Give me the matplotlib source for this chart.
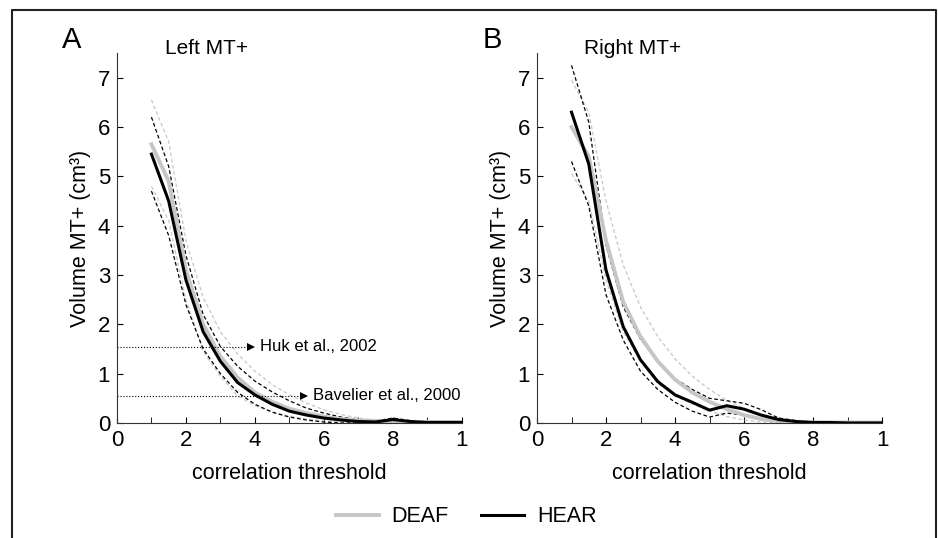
import matplotlib.pyplot as plt
from matplotlib.lines import Line2D
import numpy as np

plt.rcParams['font.family'] = ['Liberation Sans', 'DejaVu Sans']

# correlation thresholds
thr = [0.1, 0.15, 0.2, 0.25, 0.3, 0.35, 0.4, 0.45, 0.5, 0.55,
       0.6, 0.65, 0.7, 0.75, 0.8, 0.85, 0.9, 0.95, 1.0]

# Left MT+
left_hear = [5.45, 4.5, 2.9, 1.85, 1.25, 0.82, 0.57, 0.38, 0.24, 0.16,
             0.1, 0.06, 0.03, 0.02, 0.07, 0.03, 0.01, 0.01, 0.01]
left_hear_hi = [6.2, 5.2, 3.4, 2.2, 1.55, 1.15, 0.85, 0.63, 0.45, 0.3,
                0.2, 0.12, 0.07, 0.04, 0.1, 0.05, 0.02, 0.02, 0.02]
left_hear_lo = [4.7, 3.8, 2.4, 1.5, 1.0, 0.62, 0.38, 0.22, 0.12, 0.06,
                0.02, 0.0, 0.0, 0.0, 0.03, 0.0, 0.0, 0.0, 0.0]
left_deaf = [5.65, 4.9, 3.1, 2.0, 1.35, 0.92, 0.62, 0.43, 0.29, 0.2,
             0.13, 0.08, 0.05, 0.04, 0.03, 0.02, 0.02, 0.02, 0.02]
left_deaf_hi = [6.55, 5.7, 3.7, 2.55, 1.85, 1.4, 1.05, 0.78, 0.57, 0.4,
                0.27, 0.17, 0.1, 0.06, 0.04, 0.03, 0.03, 0.03, 0.03]
left_deaf_lo = [4.8, 4.1, 2.5, 1.45, 0.95, 0.55, 0.35, 0.22, 0.14, 0.08,
                0.04, 0.02, 0.01, 0.01, 0.01, 0.01, 0.01, 0.01, 0.01]

# Right MT+
right_hear = [6.3, 5.25, 3.1, 1.95, 1.28, 0.84, 0.57, 0.42, 0.26, 0.35,
              0.28, 0.16, 0.07, 0.03, 0.01, 0.01, 0.0, 0.0, 0.0]
right_hear_hi = [7.25, 6.1, 3.6, 2.35, 1.7, 1.25, 0.9, 0.68, 0.5, 0.45,
                 0.4, 0.27, 0.1, 0.05, 0.02, 0.01, 0.01, 0.01, 0.01]
right_hear_lo = [5.3, 4.4, 2.6, 1.68, 1.05, 0.68, 0.42, 0.24, 0.12, 0.2,
                 0.16, 0.07, 0.02, 0.0, 0.0, 0.0, 0.0, 0.0, 0.0]
right_deaf = [6.0, 5.4, 3.7, 2.45, 1.75, 1.25, 0.88, 0.62, 0.43, 0.28,
              0.16, 0.08, 0.04, 0.02, 0.01, 0.01, 0.01, 0.01, 0.01]
right_deaf_hi = [6.95, 6.3, 4.5, 3.2, 2.35, 1.75, 1.3, 0.95, 0.68, 0.46,
                 0.3, 0.16, 0.08, 0.04, 0.02, 0.02, 0.02, 0.02, 0.02]
right_deaf_lo = [5.05, 4.5, 2.9, 1.85, 1.25, 0.8, 0.55, 0.38, 0.25, 0.13,
                 0.06, 0.02, 0.0, 0.0, 0.0, 0.0, 0.0, 0.0, 0.0]

xticks = [0, 0.2, 0.4, 0.6, 0.8, 1.0]
xticklabels = ['0', '2', '4', '6', '8', '1']
yticks = [0, 1, 2, 3, 4, 5, 6, 7]

# literature reference volumes (cm3)
huk_vol = 1.55
bav_vol = 0.55

DEAF_C = '#c6c6c6'
DEAF_DASH = '#c8c8c8'

fig = plt.figure(figsize=(9.38, 5.38), dpi=100)
axA = fig.add_axes([0.1247, 0.2138, 0.3675, 0.6877])
axB = fig.add_axes([0.5725, 0.2138, 0.3678, 0.6877])

panels = [
    (axA, left_deaf, left_deaf_hi, left_deaf_lo, left_hear, left_hear_hi, left_hear_lo),
    (axB, right_deaf, right_deaf_hi, right_deaf_lo, right_hear, right_hear_hi, right_hear_lo),
]

for ax, d, dhi, dlo, h, hhi, hlo in panels:
    ax.plot(thr, dhi, color=DEAF_DASH, lw=0.9, dashes=(3, 2))
    ax.plot(thr, dlo, color=DEAF_DASH, lw=0.9, dashes=(3, 2))
    ax.plot(thr, hhi, color='black', lw=0.9, dashes=(3, 2))
    ax.plot(thr, hlo, color='black', lw=0.9, dashes=(3, 2))
    ax.plot(thr, d, color=DEAF_C, lw=2.8, label='DEAF')
    ax.plot(thr, h, color='black', lw=2.2, label='HEAR')
    ax.set_xlim(0, 1)
    ax.set_ylim(0, 7.5)
    ax.spines['top'].set_visible(False)
    ax.spines['right'].set_visible(False)
    ax.spines['left'].set_color('#333333')
    ax.spines['bottom'].set_color('#333333')
    ax.set_xticks(xticks)
    ax.set_xticklabels(xticklabels)
    ax.set_xticks(np.arange(0.1, 1.0, 0.2), minor=True)
    ax.set_yticks(yticks)
    ax.tick_params(direction='in', length=4, labelsize=16, pad=5)
    ax.tick_params(which='minor', direction='in', length=4)
    ax.set_xlabel('correlation threshold', fontsize=15.5, labelpad=9)
    ax.set_ylabel('Volume MT+ (cm³)', fontsize=15.5, labelpad=5)

# reference arrows in panel A
for vol, x_end, label in [(huk_vol, 0.40, 'Huk et al., 2002'), (bav_vol, 0.555, 'Bavelier et al., 2000')]:
    axA.plot([0, x_end - 0.015], [vol, vol], color='black', lw=0.8, ls=':')
    axA.plot([x_end - 0.012], [vol], marker='>', color='black', ms=6, mew=0)
    axA.text(x_end + 0.015, vol, label, fontsize=12, va='center', ha='left')

fig.text(0.066, 1 - 40 / 538, 'A', fontsize=21, va='center', ha='left')
fig.text(0.515, 1 - 40 / 538, 'B', fontsize=21, va='center', ha='left')
fig.text(0.176, 1 - 48 / 538, 'Left MT+', fontsize=15, va='center', ha='left')
fig.text(0.623, 1 - 48 / 538, 'Right MT+', fontsize=15, va='center', ha='left')

handles, labels = axA.get_legend_handles_labels()
fig.legend(handles[-2:], labels[-2:], loc='center', ncol=2, frameon=False,
           bbox_to_anchor=(0.497, 1 - 517 / 538), fontsize=15.5, handlelength=2.0,
           columnspacing=1.5, handletextpad=0.6)

# frame around the figure (left, top, right)
fig.add_artist(Line2D([12 / 938, 12 / 938, 936 / 938, 936 / 938],
                      [0, 1 - 10 / 538, 1 - 10 / 538, 0],
                      color='#222222', lw=1.5, transform=fig.transFigure))

fig.savefig('out.png', dpi=100)
